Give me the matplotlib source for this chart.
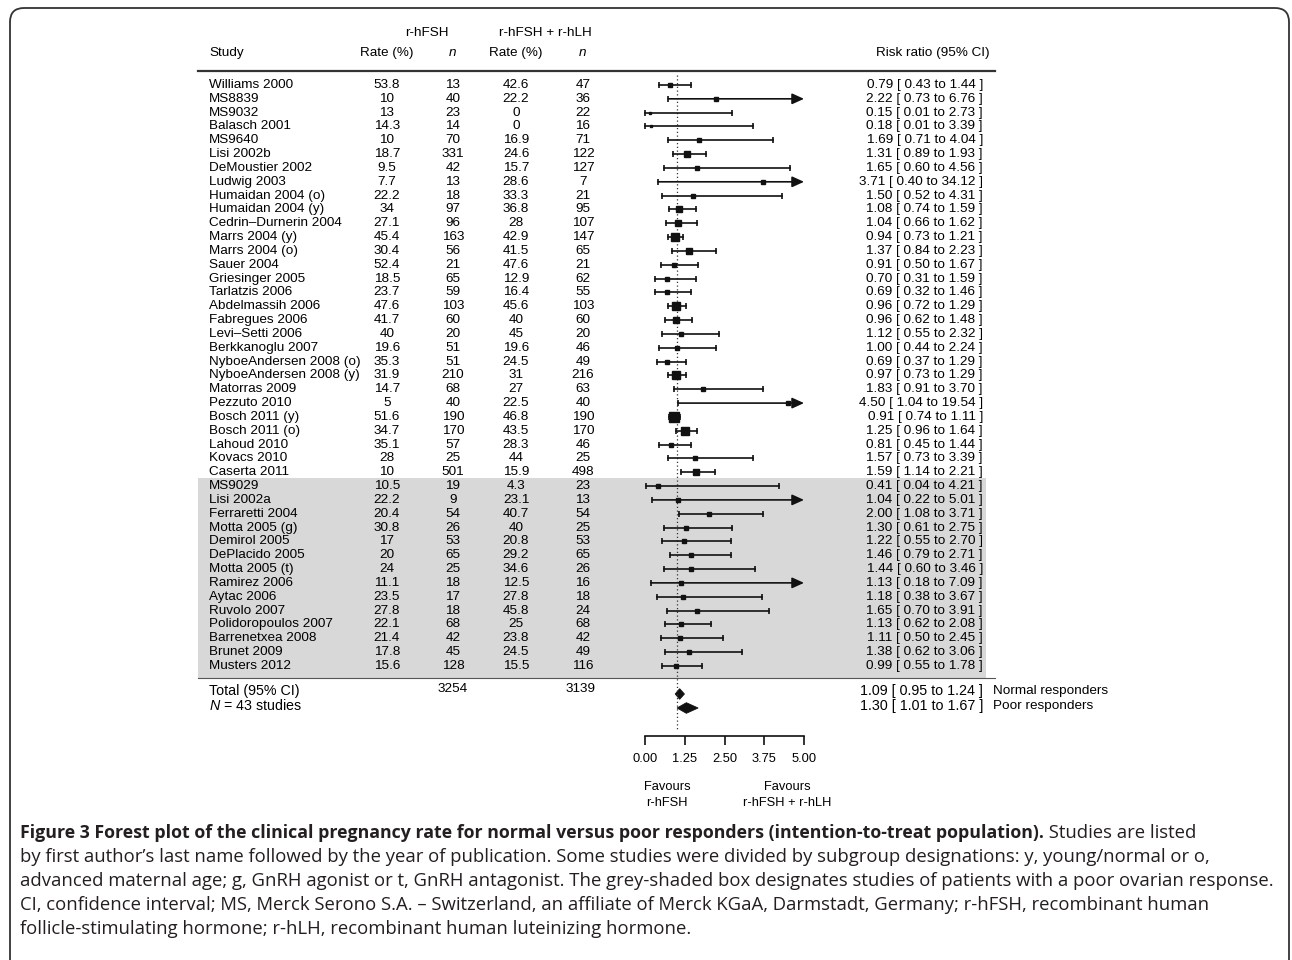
import numpy as np
import matplotlib
matplotlib.use('Agg')
import matplotlib.pyplot as plt
import matplotlib.transforms as mtransforms
from matplotlib.patches import Rectangle, FancyBboxPatch, Polygon

plt.rcParams['font.family'] = ['Liberation Sans', 'DejaVu Sans']
plt.rcParams['mathtext.fontset'] = 'custom'
plt.rcParams['mathtext.it'] = 'Liberation Sans:italic'
plt.rcParams['mathtext.rm'] = 'Liberation Sans'

# ---- data ----
studies = ['Williams 2000', 'MS8839', 'MS9032', 'Balasch 2001', 'MS9640', 'Lisi 2002b',
           'DeMoustier 2002', 'Ludwig 2003', 'Humaidan 2004 (o)', 'Humaidan 2004 (y)',
           'Cedrin\u2013Durnerin 2004', 'Marrs 2004 (y)', 'Marrs 2004 (o)', 'Sauer 2004',
           'Griesinger 2005', 'Tarlatzis 2006', 'Abdelmassih 2006', 'Fabregues 2006',
           'Levi\u2013Setti 2006', 'Berkkanoglu 2007', 'NyboeAndersen 2008 (o)',
           'NyboeAndersen 2008 (y)', 'Matorras 2009', 'Pezzuto 2010', 'Bosch 2011 (y)',
           'Bosch 2011 (o)', 'Lahoud 2010', 'Kovacs 2010', 'Caserta 2011',
           'MS9029', 'Lisi 2002a', 'Ferraretti 2004', 'Motta 2005 (g)', 'Demirol 2005',
           'DePlacido 2005', 'Motta 2005 (t)', 'Ramirez 2006', 'Aytac 2006', 'Ruvolo 2007',
           'Polidoropoulos 2007', 'Barrenetxea 2008', 'Brunet 2009', 'Musters 2012']
rate_fsh = [53.8, 10, 13, 14.3, 10, 18.7, 9.5, 7.7, 22.2, 34, 27.1, 45.4, 30.4, 52.4,
            18.5, 23.7, 47.6, 41.7, 40, 19.6, 35.3, 31.9, 14.7, 5, 51.6, 34.7, 35.1, 28, 10,
            10.5, 22.2, 20.4, 30.8, 17, 20, 24, 11.1, 23.5, 27.8, 22.1, 21.4, 17.8, 15.6]
n_fsh = [13, 40, 23, 14, 70, 331, 42, 13, 18, 97, 96, 163, 56, 21, 65, 59, 103, 60, 20,
         51, 51, 210, 68, 40, 190, 170, 57, 25, 501,
         19, 9, 54, 26, 53, 65, 25, 18, 17, 18, 68, 42, 45, 128]
rate_lh = [42.6, 22.2, 0, 0, 16.9, 24.6, 15.7, 28.6, 33.3, 36.8, 28, 42.9, 41.5, 47.6,
           12.9, 16.4, 45.6, 40, 45, 19.6, 24.5, 31, 27, 22.5, 46.8, 43.5, 28.3, 44, 15.9,
           4.3, 23.1, 40.7, 40, 20.8, 29.2, 34.6, 12.5, 27.8, 45.8, 25, 23.8, 24.5, 15.5]
n_lh = [47, 36, 22, 16, 71, 122, 127, 7, 21, 95, 107, 147, 65, 21, 62, 55, 103, 60, 20,
        46, 49, 216, 63, 40, 190, 170, 46, 25, 498,
        23, 13, 54, 25, 53, 65, 26, 16, 18, 24, 68, 42, 49, 116]
rr = [0.79, 2.22, 0.15, 0.18, 1.69, 1.31, 1.65, 3.71, 1.50, 1.08, 1.04, 0.94, 1.37, 0.91,
      0.70, 0.69, 0.96, 0.96, 1.12, 1.00, 0.69, 0.97, 1.83, 4.50, 0.91, 1.25, 0.81, 1.57, 1.59,
      0.41, 1.04, 2.00, 1.30, 1.22, 1.46, 1.44, 1.13, 1.18, 1.65, 1.13, 1.11, 1.38, 0.99]
ci_lo = [0.43, 0.73, 0.01, 0.01, 0.71, 0.89, 0.60, 0.40, 0.52, 0.74, 0.66, 0.73, 0.84, 0.50,
         0.31, 0.32, 0.72, 0.62, 0.55, 0.44, 0.37, 0.73, 0.91, 1.04, 0.74, 0.96, 0.45, 0.73, 1.14,
         0.04, 0.22, 1.08, 0.61, 0.55, 0.79, 0.60, 0.18, 0.38, 0.70, 0.62, 0.50, 0.62, 0.55]
ci_hi = [1.44, 6.76, 2.73, 3.39, 4.04, 1.93, 4.56, 34.12, 4.31, 1.59, 1.62, 1.21, 2.23, 1.67,
         1.59, 1.46, 1.29, 1.48, 2.32, 2.24, 1.29, 1.29, 3.70, 19.54, 1.11, 1.64, 1.44, 3.39, 2.21,
         4.21, 5.01, 3.71, 2.75, 2.70, 2.71, 3.46, 7.09, 3.67, 3.91, 2.08, 2.45, 3.06, 1.78]

summary_labels = ['Normal responders', 'Poor responders']
summary_rr = [1.09, 1.30]
summary_lo = [0.95, 1.01]
summary_hi = [1.24, 1.67]
axis_ticks = [0.00, 1.25, 2.50, 3.75, 5.00]
x_max = 5.0

caption_bold = ('Figure 3 Forest plot of the clinical pregnancy rate for normal versus poor '
                'responders (intention-to-treat population).')
caption_lines = [
    ' Studies are listed',
    'by first author\u2019s last name followed by the year of publication. Some studies were '
    'divided by subgroup designations: y, young/normal or o,',
    'advanced maternal age; g, GnRH agonist or t, GnRH antagonist. The grey-shaded box '
    'designates studies of patients with a poor ovarian response.',
    'CI, confidence interval; MS, Merck Serono S.A. \u2013 Switzerland, an affiliate of Merck '
    'KGaA, Darmstadt, Germany; r-hFSH, recombinant human',
    'follicle-stimulating hormone; r-hLH, recombinant human luteinizing hormone.',
]

# ---- layout ----
W, H = 1292, 960
fig = plt.figure(figsize=(W / 100, H / 100), dpi=100)


def fx(px):
    return px / W


def fy(py):
    return 1 - py / H


ROW0, DROW = 85.0, 13.83      # pixel of first row, pixels per row
X0, X1 = 645.0, 804.0         # pixels of 0 and 5 on the risk ratio scale


def row(py):
    return (py - ROW0) / DROW


ax = fig.add_axes([fx(X0), 0, fx(X1) - fx(X0), 1])
ax.set_xlim(0, x_max)
ax.set_ylim(row(H), row(0))
ax.axis('off')
tr = mtransforms.blended_transform_factory(fig.transFigure, ax.transData)

ink = '#111111'
fs = 9.7

# grey box for poor responders, rules
ax.add_patch(Rectangle((fx(198), row(478)), fx(986) - fx(198), row(678) - row(478),
                       transform=tr, facecolor='#d8d8d8', edgecolor='none', zorder=0,
                       clip_on=False))
ax.plot([fx(198), fx(995)], [row(71), row(71)], transform=tr, color='#333333', lw=1.6,
        clip_on=False)
ax.plot([fx(198), fx(995)], [row(678), row(678)], transform=tr, color='#555555', lw=0.8,
        clip_on=False)

# reference line at 1
ax.plot([1, 1], [row(75), row(730)], color='#333333', lw=0.9, ls=(0, (1, 2)), clip_on=False)

# study rows
lo = np.array(ci_lo)
hi = np.array(ci_hi)
weight = 1 / ((np.log(hi) - np.log(lo)) / 3.92) ** 2
side_px = 2.5 + 0.7 * np.sqrt(weight)
for i, name in enumerate(studies):
    if ci_hi[i] > x_max:
        ax.annotate('', xy=(x_max, i), xytext=(ci_lo[i], i),
                    arrowprops=dict(arrowstyle='-|>,head_length=0.55,head_width=0.25',
                                    mutation_scale=13, lw=1.2, color=ink,
                                    shrinkA=0, shrinkB=0), annotation_clip=False)
        ax.plot([ci_lo[i]], [i], ls='none', marker='|', ms=5, mew=1.2, color=ink,
                clip_on=False)
    else:
        ax.plot([ci_lo[i], ci_hi[i]], [i, i], color=ink, lw=1.2, clip_on=False,
                marker='|', ms=5, mew=1.2)
    ax.plot([rr[i]], [i], ls='none', marker='s', ms=side_px[i] * 0.72, color=ink,
            clip_on=False)

    ax.text(fx(209), i, name, transform=tr, ha='left', va='center', fontsize=fs)
    ax.text(fx(387), i, f'{rate_fsh[i]:g}', transform=tr, ha='center', va='center', fontsize=fs)
    ax.text(fx(453), i, f'{n_fsh[i]}', transform=tr, ha='center', va='center', fontsize=fs)
    ax.text(fx(516), i, f'{rate_lh[i]:g}', transform=tr, ha='center', va='center', fontsize=fs)
    ax.text(fx(583), i, f'{n_lh[i]}', transform=tr, ha='center', va='center', fontsize=fs)
    ax.text(fx(983), i, f'{rr[i]:.2f} [ {ci_lo[i]:.2f} to {ci_hi[i]:.2f} ]', transform=tr,
            ha='right', va='center', fontsize=fs)

# header
ax.text(fx(427), row(33), 'r-hFSH', transform=tr, ha='center', va='center', fontsize=fs)
ax.text(fx(545), row(33), 'r-hFSH + r-hLH', transform=tr, ha='center', va='center', fontsize=fs)
ax.text(fx(209), row(53), 'Study', transform=tr, ha='left', va='center', fontsize=fs)
for xc, lab, style in [(387, 'Rate (%)', 'normal'), (453, 'n', 'italic'),
                       (516, 'Rate (%)', 'normal'), (583, 'n', 'italic')]:
    ax.text(fx(xc), row(53), lab, transform=tr, ha='center', va='center', fontsize=fs,
            fontstyle=style)
ax.text(fx(990), row(53), 'Risk ratio (95% CI)', transform=tr, ha='right', va='center',
        fontsize=fs)

# totals
ax.text(fx(209), row(691), 'Total (95% CI)', transform=tr, ha='left', va='center', fontsize=fs + 0.6)
ax.text(fx(209), row(706), '$N$ = 43 studies', transform=tr, ha='left', va='center', fontsize=fs + 0.6)
ax.text(fx(453), row(689), f'{sum(n_fsh)}', transform=tr, ha='center', va='center', fontsize=fs)
ax.text(fx(581), row(689), f'{sum(n_lh)}', transform=tr, ha='center', va='center', fontsize=fs)

sum_rows = [row(694), row(708)]
sum_text_rows = [row(691), row(706)]
for k in range(len(summary_rr)):
    yk = sum_rows[k]
    hh = 5.3 / DROW
    ax.add_patch(Polygon([[summary_lo[k], yk], [summary_rr[k], yk - hh],
                          [summary_hi[k], yk], [summary_rr[k], yk + hh]],
                         closed=True, facecolor=ink, edgecolor=ink, lw=0.6, clip_on=False))
    ax.text(fx(983), sum_text_rows[k],
            f'{summary_rr[k]:.2f} [ {summary_lo[k]:.2f} to {summary_hi[k]:.2f} ]',
            transform=tr, ha='right', va='center', fontsize=fs + 0.6)
    ax.text(fx(993), sum_text_rows[k], summary_labels[k], transform=tr, ha='left',
            va='center', fontsize=fs)

# risk ratio scale
axx = fig.add_axes([fx(X0), fy(736), fx(X1) - fx(X0), 0.001])
axx.set_xlim(0, x_max)
axx.set_facecolor('none')
for s in ['top', 'left', 'right']:
    axx.spines[s].set_visible(False)
axx.spines['bottom'].set_linewidth(1.2)
axx.spines['bottom'].set_color(ink)
axx.set_yticks([])
axx.set_xticks(axis_ticks)
axx.set_xticklabels([f'{t:.2f}' for t in axis_ticks])
axx.tick_params(axis='x', direction='out', length=6.5, width=1.2, color=ink, pad=6,
                labelsize=9.3)

fig.text(fx(667), fy(787), 'Favours', ha='center', va='center', fontsize=9.3)
fig.text(fx(667), fy(803), 'r-hFSH', ha='center', va='center', fontsize=9.3)
fig.text(fx(787), fy(787), 'Favours', ha='center', va='center', fontsize=9.3)
fig.text(fx(787), fy(803), 'r-hFSH + r-hLH', ha='center', va='center', fontsize=9.3)

# outer rounded frame
frame = FancyBboxPatch((10, -40), 1279, 992, boxstyle='round,pad=0,rounding_size=14',
                       transform=mtransforms.IdentityTransform(), facecolor='none',
                       edgecolor='#333333', lw=1.3)
fig.add_artist(frame)

# caption
cap_font = ['Open Sans', 'DejaVu Sans']
cap_color = '#231f20'
cap_y = [833, 857, 881, 905, 929]
t_bold = fig.text(fx(20), fy(cap_y[0]), caption_bold, family=cap_font, fontsize=12.8,
                  fontweight='bold', color=cap_color, ha='left', va='center')
fig.canvas.draw()
bb = t_bold.get_window_extent(renderer=fig.canvas.get_renderer())
fig.text(bb.x1 / W, fy(cap_y[0]), caption_lines[0], family=cap_font, fontsize=13.3,
         color=cap_color, ha='left', va='center')
for k in range(1, len(caption_lines)):
    fig.text(fx(20), fy(cap_y[k]), caption_lines[k], family=cap_font, fontsize=13.3,
             color=cap_color, ha='left', va='center')

fig.savefig('out.png', dpi=100)
